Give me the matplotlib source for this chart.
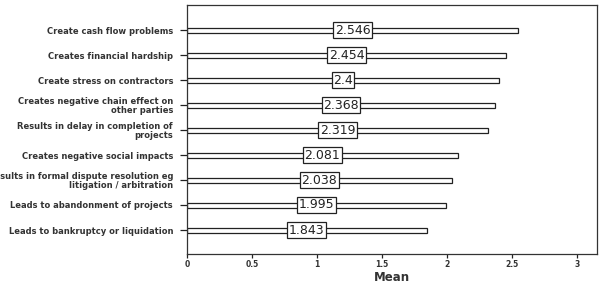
import matplotlib
matplotlib.use("Agg")
import matplotlib.pyplot as plt

categories = [
    "Create cash flow problems",
    "Creates financial hardship",
    "Create stress on contractors",
    "Creates negative chain effect on\nother parties",
    "Results in delay in completion of\nprojects",
    "Creates negative social impacts",
    "Results in formal dispute resolution eg\nlitigation / arbitration",
    "Leads to abandonment of projects",
    "Leads to bankruptcy or liquidation",
]
means = [2.546, 2.454, 2.4, 2.368, 2.319, 2.081, 2.038, 1.995, 1.843]
value_labels = ["2.546", "2.454", "2.4", "2.368", "2.319", "2.081", "2.038", "1.995", "1.843"]
xticks = [0, 0.5, 1, 1.5, 2, 2.5, 3]
xticklabels = ["0", "0.5", "1", "1.5", "2", "2.5", "3"]

plt.rcParams['font.family'] = ['DejaVu Sans']

fig = plt.figure(figsize=(6.02, 2.84), dpi=100)
ax = fig.add_axes([187/602, 30/284, 410/602, 249/284])

n = len(categories)
ypos = [n - 1 - i for i in range(n)]
ax.barh(ypos, means, height=0.2, color='white', edgecolor='#222222', linewidth=0.9)

for y, v, s in zip(ypos, means, value_labels):
    ax.text(v / 2, y, s, ha='center', va='center', fontsize=9, color='#222222',
            bbox=dict(boxstyle='square,pad=0.12', facecolor='white', edgecolor='#222222', linewidth=0.9))

ax.set_xlim(0, 3.154)
ax.set_ylim(-0.96, 9)
ax.set_yticks(ypos)
ax.set_yticklabels(categories, fontsize=6, color='#333333', fontweight='bold', linespacing=0.95)
ax.set_xticks(xticks)
ax.set_xticklabels(xticklabels, fontsize=5.5, color='#333333', fontweight='bold')
ax.tick_params(axis='y', length=5, width=0.9, pad=5, color='#222222')
ax.tick_params(axis='x', length=3, width=0.9, pad=1.5, color='#222222')
ax.set_xlabel("Mean", fontsize=8.5, fontweight='bold', color='#333333', va='center')
ax.xaxis.set_label_coords(0.5, -0.094)
for sp in ax.spines.values():
    sp.set_linewidth(0.9)
    sp.set_color('#333333')

fig.savefig("out.png", dpi=100)
